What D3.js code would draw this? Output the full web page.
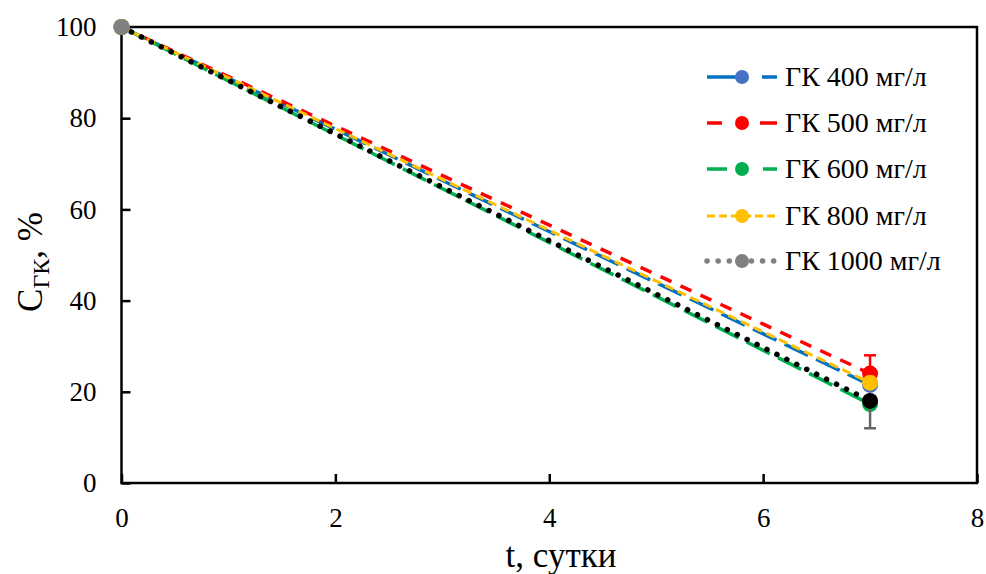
<!DOCTYPE html>
<html>
<head>
<meta charset="utf-8">
<script src="https://cdn.jsdelivr.net/npm/d3@7"></script>
<style>
  html, body { margin: 0; padding: 0; background: #fff; }
  svg { display: block; }
  .ser, .ser text { font-family: "Liberation Serif"; fill: #000; }
</style>
</head>
<body>
<svg id="chart" width="986" height="574"></svg>
<script>
// ---- data ----
const days = [0, 7];
const seriesNames = ["ГК 400 мг/л", "ГК 500 мг/л", "ГК 600 мг/л", "ГК 800 мг/л", "ГК 1000 мг/л"];
const c400 = [100, 21.5];
const c500 = [100, 24.0];
const c600 = [100, 17.3];
const c800 = [100, 22.0];
const c1000 = [100, 18.0];
const errPlus500 = [0, 4];
const errMinus1000 = [0, 6];
const xTicks = [0, 2, 4, 6, 8];
const yTicks = [0, 20, 40, 60, 80, 100];

// ---- styles ----
const styles = [
  { line: "#0070c0", marker: "#4472c4", dash: "26 9", lw: 3.5, legDash: "38 17 15", cap: "butt" },
  { line: "#ff0000", marker: "#ff0000", dash: "12 10", lw: 3.5, legDash: "15 38 17", cap: "butt" },
  { line: "#00b050", marker: "#00b050", dash: "26 9", lw: 3.5, legDash: "20 36 14", cap: "butt" },
  { line: "#ffc000", marker: "#ffc000", dash: "9 5", lw: 3.0, legDash: "8 4", cap: "butt" },
  { line: "#000000", marker: "#000000", startMarker: "#808080", dash: "0.1 11", lw: 5.5, legLine: "#808080", legDash: "0.1 11", cap: "round" }
];
const values = [c400, c500, c600, c800, c1000];

const svg = d3.select("#chart");
const X0 = 121.5, X1 = 977, Y0 = 27, Y1 = 483;
const x = d3.scaleLinear().domain([0, 8]).range([X0, X1]);
const y = d3.scaleLinear().domain([0, 100]).range([Y1, Y0]);

// axes (inward ticks)
const gx = svg.append("g").attr("transform", `translate(0,${Y1})`)
  .call(d3.axisBottom(x).tickValues(xTicks).tickSize(-9).tickPadding(25).tickFormat(d3.format("d")));
const gy = svg.append("g").attr("transform", `translate(${X0},0)`)
  .call(d3.axisLeft(y).tickValues(yTicks).tickSize(-9).tickPadding(25).tickFormat(d3.format("d")));
[gx, gy].forEach(g => {
  g.attr("font-family", null).attr("font-size", 27).classed("ser", true);
  g.select(".domain").remove();
  g.selectAll(".tick line").attr("stroke", "#000").attr("stroke-width", 2.5);
  g.selectAll(".tick text").attr("fill", "#000").classed("ser", true);
});

// frame
svg.append("rect").attr("x", X0).attr("y", Y0).attr("width", X1 - X0).attr("height", Y1 - Y0)
  .attr("fill", "none").attr("stroke", "#000").attr("stroke-width", 2.5);

// lines
const line = d3.line().x((d, i) => x(days[i])).y(d => y(d));
const plot = svg.append("g");
values.forEach((vals, k) => {
  const s = styles[k];
  const g = plot.append("g");
  g.append("path").attr("d", line(vals)).attr("fill", "none")
    .attr("stroke", s.line).attr("stroke-width", s.lw)
    .attr("stroke-dasharray", s.dash).attr("stroke-linecap", s.cap);
  if (k === 1) {
    vals.forEach((v, i) => {
      if (errPlus500[i] > 0) {
        const xx = x(days[i]), yt = y(v + errPlus500[i]);
        g.append("line").attr("x1", xx).attr("x2", xx).attr("y1", y(v)).attr("y2", yt).attr("stroke", "#ff0000").attr("stroke-width", 2.5);
        g.append("line").attr("x1", xx - 6).attr("x2", xx + 6).attr("y1", yt).attr("y2", yt).attr("stroke", "#ff0000").attr("stroke-width", 2.5);
      }
    });
  }
  if (k === 4) {
    vals.forEach((v, i) => {
      if (errMinus1000[i] > 0) {
        const xx = x(days[i]), yb = y(v - errMinus1000[i]);
        g.append("line").attr("x1", xx).attr("x2", xx).attr("y1", y(v)).attr("y2", yb).attr("stroke", "#666").attr("stroke-width", 2.5);
        g.append("line").attr("x1", xx - 6).attr("x2", xx + 6).attr("y1", yb).attr("y2", yb).attr("stroke", "#666").attr("stroke-width", 2.5);
      }
    });
  }
  g.selectAll("circle").data(vals).enter().append("circle")
    .attr("cx", (d, i) => x(days[i])).attr("cy", d => y(d)).attr("r", 8)
    .attr("fill", (d, i) => (i === 0 && s.startMarker) ? s.startMarker : s.marker);
});

// legend
const leg = svg.append("g");
const legY = [77, 123, 169, 216, 261];
seriesNames.forEach((name, k) => {
  const s = styles[k];
  const col = s.legLine || s.line;
  const yy = legY[k];
  leg.append("line").attr("x1", 707).attr("x2", 777).attr("y1", yy).attr("y2", yy)
    .attr("stroke", col).attr("stroke-width", s.lw).attr("stroke-dasharray", s.legDash)
    .attr("stroke-linecap", s.cap);
  leg.append("circle").attr("cx", 742).attr("cy", yy).attr("r", 7).attr("fill", s.startMarker || s.marker);
  leg.append("text").attr("class", "ser").attr("x", 785).attr("y", yy + 9).attr("font-size", 28).text(name);
});

// axis titles
svg.append("text").attr("class", "ser").attr("x", 561).attr("y", 567).attr("text-anchor", "middle")
  .attr("font-size", 35).text("t, сутки");
const yt = svg.append("text").attr("class", "ser").attr("transform", "translate(42,262) rotate(-90)").attr("text-anchor", "middle")
  .attr("font-size", 35);
yt.append("tspan").text("C");
yt.append("tspan").attr("dy", 7).attr("font-size", 24).text("ГК");
yt.append("tspan").attr("dy", -7).text(", %");
</script>
</body>
</html>
